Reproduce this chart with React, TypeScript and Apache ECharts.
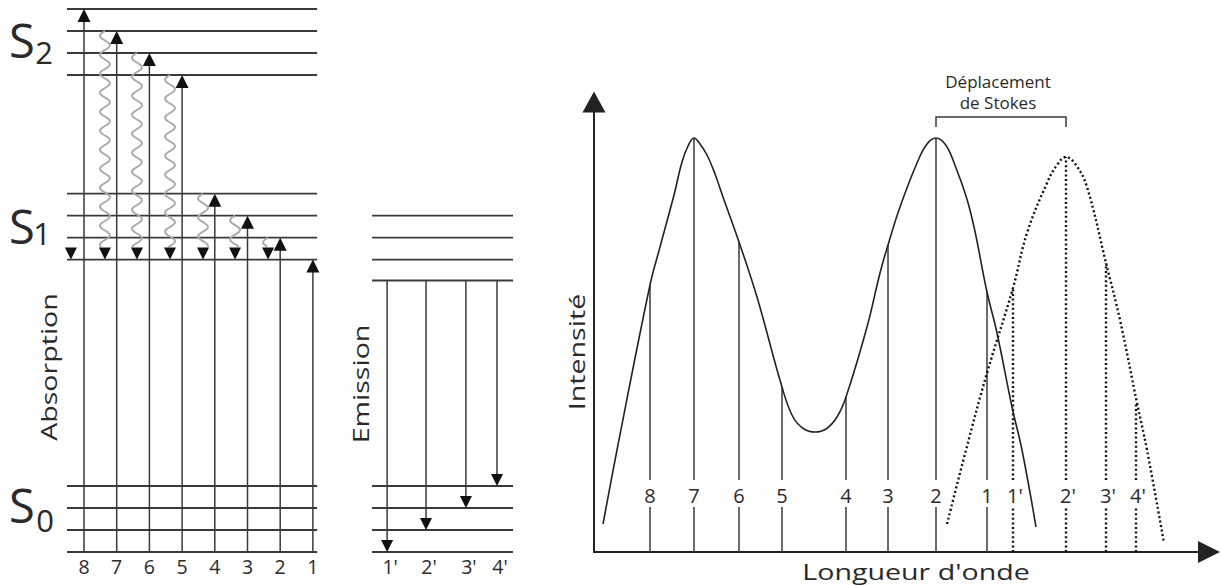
import React, { useEffect, useRef } from "react";
import * as echarts from "echarts";

// ---------- Jablonski diagram (energy: arbitrary units, position: columns) ----------
const S0_LEVELS = [0, 1, 2, 3];
const S1_LEVELS = [13.3, 14.3, 15.3, 16.3];
const S2_LEVELS = [21.7, 22.7, 23.7, 24.7];
const EM_S1_LEVELS = [12.35, 13.3, 14.3, 15.3];
const ABS_SPAN = [-0.52, 7.13];
const EM_SPAN = [8.81, 13.12];

const ABS_LABELS = ["8", "7", "6", "5", "4", "3", "2", "1"];
const ABS_COLUMN = [0, 1, 2, 3, 4, 5, 6, 7];
const ABS_TARGET = [24.7, 23.7, 22.7, 21.7, 16.3, 15.3, 14.3, 13.3];

const RELAX_COLUMN = [-0.4, 0.64, 1.62, 2.63, 3.64, 4.62, 5.63];
const RELAX_FROM = [13.3, 23.7, 22.7, 21.7, 16.3, 15.3, 14.3];
const RELAX_TO = 13.3;

const EM_LABELS = ["1'", "2'", "3'", "4'"];
const EM_COLUMN = [9.27, 10.46, 11.68, 12.63];
const EM_FROM = 12.35;
const EM_TARGET = [0, 1, 2, 3];

// ---------- Spectrum (wavelength / intensity: arbitrary units) ----------
const ABS_CURVE_X = [9, 23, 56, 66, 80, 88, 94, 100, 106, 113, 121, 129, 145, 163, 188, 199, 210, 221, 232, 243, 252, 273, 286, 294, 306, 323, 333, 342, 351, 359, 376, 393, 403, 418, 428, 442];
const ABS_CURVE_Y = [28, 102, 267, 305, 357, 390, 406, 414, 408, 397, 378, 355, 310, 255, 165, 135, 123, 120, 123, 135, 155, 225, 279, 307, 345, 389, 408, 414, 408, 392, 342, 260, 219, 145, 102, 25];
const EMI_CURVE_X = [353, 372, 393, 419, 433, 453, 463, 472, 482, 493, 512, 526, 543, 553, 570];
const EMI_CURVE_Y = [28, 102, 179, 264, 319, 369, 387, 395, 387, 365, 289, 232, 149, 102, 9];

const SPEC_ABS_X = [56, 100, 145, 188, 252, 294, 342, 393];
const SPEC_ABS_TOP = [267, 414, 310, 165, 155, 307, 414, 260];
const SPEC_EM_X = [419, 472, 512, 542];
const SPEC_EM_TOP = [264, 395, 289, 149];
const STOKES_SPAN = [342, 472];

const FONT = "'Open Sans', 'Liberation Sans', sans-serif";
const INK = "#2a2a2a";
const LINE = "#3a3a3a";

function txt(text: string, x: number, y: number, size: number, extra: any = {}) {
  return {
    type: "text",
    x,
    y,
    ...extra,
    style: {
      text,
      fontSize: size,
      fontFamily: FONT,
      fill: INK,
      align: "center",
      verticalAlign: "middle",
      textAlign: "center",
      textVerticalAlign: "middle",
    },
  };
}

export default function App() {
  const ref = useRef<HTMLDivElement>(null);

  useEffect(() => {
    if (!ref.current) return;
    const chart = echarts.init(ref.current, undefined, { renderer: "svg" });

    const levelData: number[][] = [];
    [...S0_LEVELS, ...S1_LEVELS, ...S2_LEVELS].forEach((e) => levelData.push([ABS_SPAN[0], ABS_SPAN[1], e]));
    [...S0_LEVELS, ...EM_S1_LEVELS].forEach((e) => levelData.push([EM_SPAN[0], EM_SPAN[1], e]));

    const labelStyle = (text: string, size = 19.5) => ({
      text,
      fontSize: size,
      fontFamily: FONT,
      fill: INK,
      align: "center",
      verticalAlign: "middle",
      textAlign: "center",
      textVerticalAlign: "middle",
    });

    const renderLevel = (_p: any, api: any) => {
      const a = api.coord([api.value(0), api.value(2)]);
      const b = api.coord([api.value(1), api.value(2)]);
      return {
        type: "line",
        shape: { x1: a[0], y1: a[1], x2: b[0], y2: b[1] },
        style: { stroke: LINE, lineWidth: 1.9 },
      };
    };

    const renderAbsArrow = (p: any, api: any) => {
      const c = api.value(0);
      const bot = api.coord([c, api.value(1)]);
      const top = api.coord([c, api.value(2)]);
      const x = bot[0];
      return {
        type: "group",
        children: [
          { type: "line", shape: { x1: x, y1: bot[1], x2: x, y2: top[1] + 10 }, style: { stroke: LINE, lineWidth: 1.5 } },
          { type: "polygon", shape: { points: [[x, top[1]], [x - 6.5, top[1] + 13], [x + 6.5, top[1] + 13]] }, style: { fill: "#111" } },
          { type: "text", x, y: bot[1] + 14, style: labelStyle(ABS_LABELS[p.dataIndex]) },
        ],
      };
    };

    const renderRelax = (_p: any, api: any) => {
      const c = api.value(0);
      const from = api.coord([c, api.value(1)]);
      const to = api.coord([c, api.value(2)]);
      const x = to[0];
      const headTop = to[1] - 12;
      const children: any[] = [];
      if (headTop - from[1] > 2) {
        const pts: number[][] = [];
        for (let y = from[1]; y <= headTop + 0.01; y += 1) {
          pts.push([x - 5 * Math.sin(((y - from[1]) / 19) * 2 * Math.PI), y]);
        }
        children.push({
          type: "polyline",
          shape: { points: pts },
          style: { stroke: "#a9a9a9", lineWidth: 1.9, fill: null },
        });
      }
      children.push({
        type: "polygon",
        shape: { points: [[x - 6, headTop], [x + 6, headTop], [x, to[1]]] },
        style: { fill: "#111" },
      });
      return { type: "group", children };
    };

    const renderEmArrow = (p: any, api: any) => {
      const c = api.value(0);
      const top = api.coord([c, api.value(1)]);
      const bot = api.coord([c, api.value(2)]);
      const base = api.coord([c, 0]);
      const x = top[0];
      return {
        type: "group",
        children: [
          { type: "line", shape: { x1: x, y1: top[1], x2: x, y2: bot[1] - 10 }, style: { stroke: LINE, lineWidth: 1.5 } },
          { type: "polygon", shape: { points: [[x - 6, bot[1] - 12], [x + 6, bot[1] - 12], [x, bot[1]]] }, style: { fill: "#111" } },
          { type: "text", x: x + 3, y: base[1] + 14, style: labelStyle(EM_LABELS[p.dataIndex]) },
        ],
      };
    };

    const GAP_LO = 45;
    const GAP_HI = 72;
    const LABEL_AT = 57;
    const makeSpecRenderer = (labels: string[], dash: any, dx: number) => (p: any, api: any) => {
      const x = api.value(0);
      const p0 = api.coord([x, 0]);
      const lo = api.coord([x, GAP_LO]);
      const hi = api.coord([x, GAP_HI]);
      const top = api.coord([x, api.value(1)]);
      const lab = api.coord([x, LABEL_AT]);
      const st: any = { stroke: dash ? "#111" : LINE, lineWidth: dash ? 2.4 : 1.5 };
      if (dash) st.lineDash = dash;
      return {
        type: "group",
        children: [
          { type: "line", shape: { x1: p0[0], y1: p0[1], x2: lo[0], y2: lo[1] }, style: st },
          { type: "line", shape: { x1: hi[0], y1: hi[1], x2: top[0], y2: top[1] }, style: st },
          { type: "text", x: lab[0] + dx, y: lab[1], style: labelStyle(labels[p.dataIndex], 20) },
        ],
      };
    };

    const renderStokes = (_p: any, api: any) => {
      const a = api.coord([api.value(0), api.value(2)]);
      const b = api.coord([api.value(1), api.value(2)]);
      const a2 = api.coord([api.value(0), api.value(3)]);
      const b2 = api.coord([api.value(1), api.value(3)]);
      const st = { stroke: LINE, lineWidth: 1.5, fill: null };
      return {
        type: "group",
        children: [
          { type: "polyline", shape: { points: [[a2[0], a2[1]], [a[0], a[1]], [b[0], b[1]], [b2[0], b2[1]]] }, style: st },
          {
            type: "text",
            x: (a[0] + b[0]) / 2 - 3,
            y: a[1] - 4,
            style: {
              text: "Déplacement\nde Stokes",
              fontSize: 17,
              lineHeight: 21,
              fontFamily: FONT,
              fill: INK,
              align: "center",
              verticalAlign: "bottom",
              textAlign: "center",
              textVerticalAlign: "bottom",
            },
          },
        ],
      };
    };

    const hiddenAxis = (grid: number, min: number, max: number) => ({
      gridIndex: grid,
      type: "value",
      min,
      max,
      show: false,
    });

    const arrowAxis = (grid: number, min: number, max: number, size: number[]) => ({
      gridIndex: grid,
      type: "value",
      min,
      max,
      axisLine: {
        show: true,
        onZero: false,
        symbol: ["none", "triangle"],
        symbolSize: size,
        lineStyle: { color: "#222", width: 2 },
      },
      axisTick: { show: false },
      axisLabel: { show: false },
      splitLine: { show: false },
    });

    const option: any = {
      animation: false,
      backgroundColor: "#ffffff",
      grid: [
        { left: 67, right: 707, top: 9, bottom: 33, containLabel: false, outerBoundsMode: "none" },
        { left: 594, right: 11, top: 102, bottom: 33, containLabel: false, outerBoundsMode: "none" },
      ],
      xAxis: [hiddenAxis(0, ABS_SPAN[0], EM_SPAN[1]), arrowAxis(1, 0, 615, [22, 22])],
      yAxis: [hiddenAxis(0, 0, 24.7), arrowAxis(1, 0, 450, [23, 21])],
      series: [
        {
          type: "custom",
          name: "levels",
          xAxisIndex: 0,
          yAxisIndex: 0,
          clip: false,
          renderItem: renderLevel,
          data: levelData,
        },
        {
          type: "custom",
          name: "relaxation",
          xAxisIndex: 0,
          yAxisIndex: 0,
          clip: false,
          renderItem: renderRelax,
          data: RELAX_COLUMN.map((c, i) => [c, RELAX_FROM[i], RELAX_TO]),
        },
        {
          type: "custom",
          name: "absorption",
          xAxisIndex: 0,
          yAxisIndex: 0,
          clip: false,
          renderItem: renderAbsArrow,
          data: ABS_COLUMN.map((c, i) => [c, 0, ABS_TARGET[i]]),
        },
        {
          type: "custom",
          name: "emission",
          xAxisIndex: 0,
          yAxisIndex: 0,
          clip: false,
          renderItem: renderEmArrow,
          data: EM_COLUMN.map((c, i) => [c, EM_FROM, EM_TARGET[i]]),
        },
        {
          type: "line",
          name: "absorption spectrum",
          xAxisIndex: 1,
          yAxisIndex: 1,
          smooth: 0.4,
          symbol: "none",
          showSymbol: false,
          lineStyle: { color: "#222", width: 1.6 },
          data: ABS_CURVE_X.map((x, i) => [x, ABS_CURVE_Y[i]]),
        },
        {
          type: "line",
          name: "emission spectrum",
          xAxisIndex: 1,
          yAxisIndex: 1,
          smooth: 0.4,
          symbol: "none",
          showSymbol: false,
          lineStyle: { color: "#111", width: 2.4, type: [2, 2.6] },
          data: EMI_CURVE_X.map((x, i) => [x, EMI_CURVE_Y[i]]),
        },
        {
          type: "custom",
          name: "absorption lines",
          xAxisIndex: 1,
          yAxisIndex: 1,
          clip: false,
          renderItem: makeSpecRenderer(ABS_LABELS, null, 0),
          data: SPEC_ABS_X.map((x, i) => [x, SPEC_ABS_TOP[i]]),
        },
        {
          type: "custom",
          name: "emission lines",
          xAxisIndex: 1,
          yAxisIndex: 1,
          clip: false,
          renderItem: makeSpecRenderer(EM_LABELS, [2, 2.6], 2),
          data: SPEC_EM_X.map((x, i) => [x, SPEC_EM_TOP[i]]),
        },
        {
          type: "custom",
          name: "stokes",
          xAxisIndex: 1,
          yAxisIndex: 1,
          clip: false,
          renderItem: renderStokes,
          data: [[STOKES_SPAN[0], STOKES_SPAN[1], 435, 425]],
        },
      ],
      graphic: [
        txt("S", 22, 40, 47),
        txt("2", 44, 52, 31),
        txt("S", 22, 226, 47),
        txt("1", 42, 233, 31),
        txt("S", 22, 505, 47),
        txt("0", 45, 520, 31),
        txt("Absorption", 48, 367, 22, { rotation: Math.PI / 2, scaleX: 1.3 }),
        txt("Emission", 360, 384, 22, { rotation: Math.PI / 2, scaleX: 1.3 }),
        txt("Intensité", 576, 352, 22, { rotation: Math.PI / 2, scaleX: 1.3 }),
        txt("Longueur d'onde", 916, 571, 22, { scaleX: 1.3 }),
      ],
    };

    chart.setOption(option);
    return () => chart.dispose();
  }, []);

  return (
    <div
      ref={ref}
      style={{ position: "fixed", left: 0, top: 0, width: 1220, height: 585, background: "#fff" }}
    />
  );
}
